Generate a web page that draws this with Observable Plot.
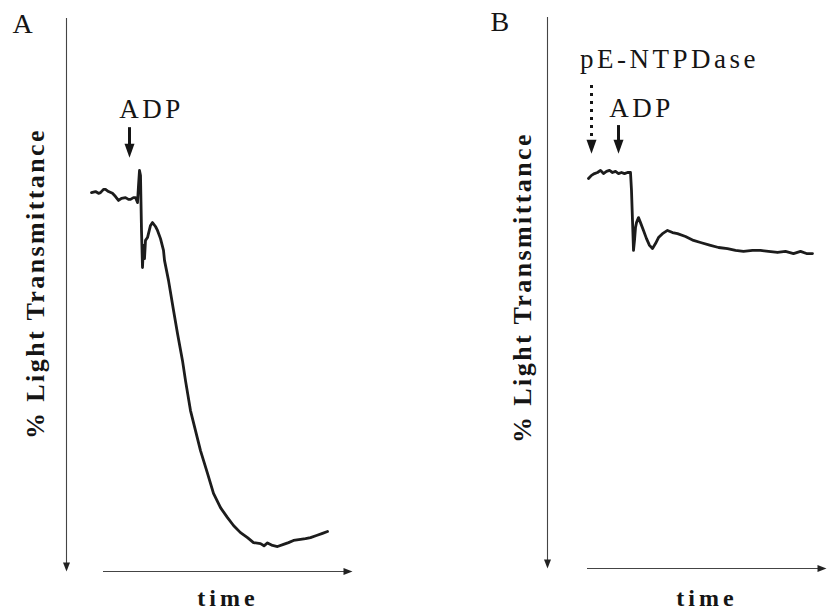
<!DOCTYPE html>
<html><head><meta charset="utf-8">
<script src="https://cdn.jsdelivr.net/npm/d3@7"></script>
<script src="https://cdn.jsdelivr.net/npm/@observablehq/plot@0.6"></script>
<style>
body{margin:0;background:#fff;}
#wrap{position:relative;width:828px;height:616px;display:flex;background:#fff;}
#wrap svg{display:block;}
</style></head><body><div id="wrap"></div>
<script>
// ---- Panel A: control (ADP only) ----
const timeA  = [50,58,64,68,74,78,84,92,98,104,110,118,124,128,134,138,142,144,146,148,150,152,154,156,158,162,168,172,178,182,188,194,196,204,214,222,232,238,248,258,268,282,294,308,322,334,348,362,374,388,395,402,412,422,434,444,454,468,478,488,500,512,522];
const transA = [0.8,0.5,1.0,0.8,-0.1,-0.1,0.5,1.0,1.9,3.0,2.4,2.2,2.7,2.7,2.2,2.2,3.6,-1.2,-5.4,-4.0,11.4,21.8,15.6,19.3,14.2,13.4,10.0,9.2,10.3,11.4,13.7,17.0,19.8,25.4,33.8,40.3,47.9,53.5,61.9,67.5,73.1,79.5,85.1,89.1,91.9,94.1,96.1,97.5,98.9,99.2,99.8,99.0,99.7,100.0,99.4,98.9,98.3,98.0,97.8,97.5,96.9,96.3,95.8];
// ---- Panel B: pE-NTPDase then ADP ----
const timeB  = [82,88,94,100,106,112,118,124,130,136,142,148,154,160,166,168,170,172,174,176,178,182,186,192,198,204,210,216,222,230,240,250,260,276,292,306,326,342,360,376,392,410,426,442,460,476,492,506,518,530];
const transB = [-2.7,-3.6,-4.1,-4.4,-5.0,-4.1,-4.7,-5.0,-4.4,-4.7,-4.1,-4.4,-4.1,-4.4,-4.4,0.7,9.1,17.5,14.7,11.1,9.7,8.3,9.7,11.9,14.2,16.1,17.0,15.6,13.9,12.8,11.9,12.5,12.8,13.6,14.7,15.3,16.1,16.7,17.0,17.5,17.8,17.5,17.5,17.8,18.1,17.8,18.4,17.8,18.4,18.4];

// addition events (time, arrow top, arrow tip, dotted?)
const eventTimeA = [126], eventTopA = [-17.4], eventTipA = [-9.0], eventDotA = [false];
const eventTimeB = [88, 142], eventTopB = [-28.9, -17.6], eventTipB = [-9.7, -9.7], eventDotB = [true, false];
// annotation labels
const noteTextA = ["ADP"], noteTimeA = [170], noteTransA = [-20.0];
const noteTextB = ["pE-NTPDase", "ADP"], noteTimeB = [244, 188], noteTransB = [-33.9, -19.9];

const panelLabels = ["A", "B"];
const yLabel = "% Light Transmittance";
const xLabel = "time";
const yDomain = [-48, 107];

const serif = "'Liberation Serif','Times New Roman',serif";
const ink = "#151515";

const downHead = (w, h) => ({draw(ctx){ctx.moveTo(0,0);ctx.lineTo(-w/2,-h);ctx.lineTo(w/2,-h);ctx.closePath();}});
const rightHead = (w, h) => ({draw(ctx){ctx.moveTo(0,0);ctx.lineTo(-h,-w/2);ctx.lineTo(-h,w/2);ctx.closePath();}});

function panel(o) {
  const trace = o.time.map((t, i) => ({t, T: o.trans[i]}));
  const events = o.evTime.map((t, i) => ({t, from: o.evTop[i], to: o.evTip[i], dotted: o.evDot[i]}));
  const notes = o.noteText.map((s, i) => ({s, t: o.noteTime[i], T: o.noteTrans[i]}));
  const mid = (o.axisStart + o.xMax) / 2;
  const svg = Plot.plot({
    width: 414, height: 616,
    marginLeft: o.m[0], marginRight: o.m[1], marginTop: o.m[2], marginBottom: o.m[3],
    x: {domain: [0, o.xMax], axis: null},
    y: {domain: yDomain, reverse: true, axis: null},
    style: {fontFamily: serif, background: "white", color: ink, overflow: "visible"},
    marks: [
      Plot.ruleX([0], {y1: [yDomain[0]], y2: [yDomain[1]], stroke: "#444", strokeWidth: 1.1, insetBottom: 4}),
      Plot.dot([0], {x: d => d, y: [yDomain[1]], symbol: downHead(7, 9), r: 4, fill: "#222", stroke: "none"}),
      Plot.ruleY([yDomain[1]], {x1: [o.axisStart], x2: [o.xMax], stroke: "#444", strokeWidth: 1.1, insetRight: 4}),
      Plot.dot([o.xMax], {x: d => d, y: [yDomain[1]], symbol: rightHead(7, 9), r: 4, fill: "#222", stroke: "none"}),
      Plot.ruleX(events.filter(d => !d.dotted), {x: "t", y1: "from", y2: "to", stroke: ink, strokeWidth: 3, insetBottom: 12}),
      Plot.ruleX(events.filter(d => d.dotted), {x: "t", y1: "from", y2: "to", stroke: ink, strokeWidth: 3, strokeDasharray: "3,5", insetBottom: 12}),
      Plot.dot(events, {x: "t", y: "to", symbol: downHead(10, 14), r: 5, fill: ink, stroke: "none"}),
      Plot.line(trace, {x: "t", y: "T", stroke: "#1c1c1c", strokeWidth: 2.8, strokeLinejoin: "round", strokeLinecap: "round"}),
      Plot.text(notes, {x: "t", y: "T", text: "s", lineAnchor: "bottom", textAnchor: "middle", fontSize: 27, fill: ink}),
      Plot.text([o.letter], {text: d => d, frameAnchor: "top-left", dx: o.letterD[0], dy: o.letterD[1], textAnchor: "start", lineAnchor: "bottom", fontSize: 28, fill: ink}),
      Plot.text([yLabel], {text: d => d, frameAnchor: "left", rotate: -90, dx: o.ylabD[0], dy: o.ylabD[1], textAnchor: "middle", lineAnchor: "bottom", fontSize: 26, fontWeight: "bold", fill: ink}),
      Plot.text([xLabel], {text: d => d, x: [mid], y: [yDomain[1]], dy: o.timeDy, textAnchor: "middle", lineAnchor: "bottom", fontSize: 24, fontWeight: "bold", fill: ink})
    ]
  });
  const spacing = {[yLabel]: "2.4px", [xLabel]: "4px", "ADP": "3.5px", "pE-NTPDase": "3.5px"};
  d3.select(svg).selectAll("text").each(function() {
    const sp = spacing[this.textContent];
    if (sp) d3.select(this).attr("letter-spacing", sp);
  });
  return svg;
}

const wrap = document.getElementById("wrap");
wrap.appendChild(panel({
  letter: panelLabels[0], time: timeA, trans: transA, xMax: 572, axisStart: 74,
  evTime: eventTimeA, evTop: eventTopA, evTip: eventTipA, evDot: eventDotA,
  noteText: noteTextA, noteTime: noteTimeA, noteTrans: noteTransA,
  m: [66, 62, 18, 45], letterD: [-54, 14], ylabD: [-23, -11.5], timeDy: 34
}));
wrap.appendChild(panel({
  letter: panelLabels[1], time: timeB, trans: transB, xMax: 558, axisStart: 80,
  evTime: eventTimeB, evTop: eventTopB, evTip: eventTipB, evDot: eventDotB,
  noteText: noteTextB, noteTime: noteTimeB, noteTrans: noteTransB,
  m: [133, 2, 17, 48], letterD: [-57, 13], ylabD: [-17, -5.5], timeDy: 37
}));
</script></body></html>
